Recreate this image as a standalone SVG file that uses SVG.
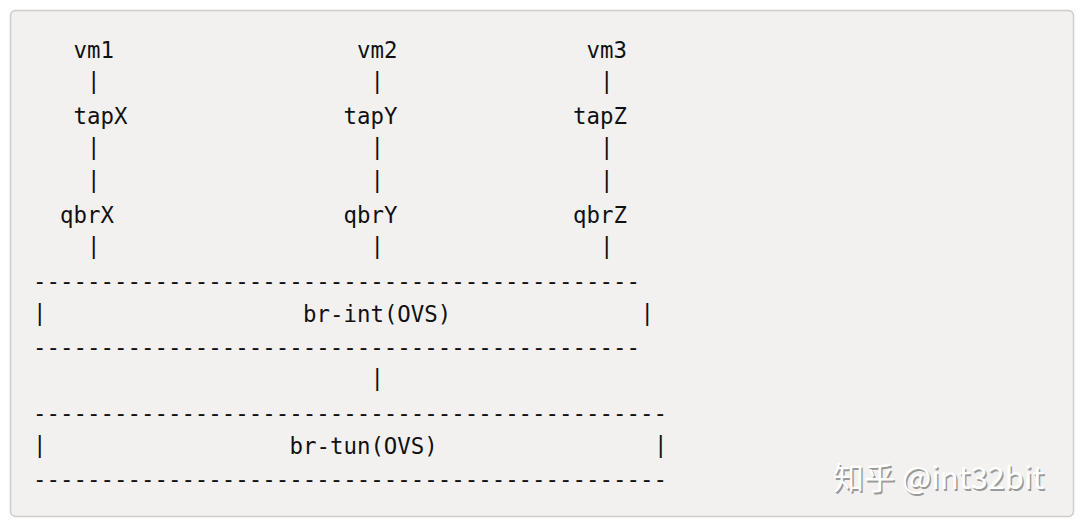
<svg xmlns="http://www.w3.org/2000/svg" width="1080" height="523" viewBox="0 0 1080 523">
<style>
.t{font-family:"DejaVu Sans Mono","Liberation Mono",monospace;font-size:22.4px;fill:#111111}
.wm{font-family:"Noto Sans CJK SC","Noto Sans",sans-serif;font-size:31px;fill:#ffffff}
.wms{font-family:"Noto Sans CJK SC","Noto Sans",sans-serif;font-size:31px;fill:#9a9a9a}
</style>
<rect x="0" y="0" width="1080" height="523" fill="#ffffff"/>
<rect id="panel" x="10.5" y="10.5" width="1063" height="506" rx="5" fill="#f3f1f0" stroke="#cfcccb" stroke-width="1.5"/>
<g id="vm1"><text class="t" x="73.5" y="58">vm1</text></g>
<g id="tapX"><text class="t" x="73.5" y="124">tapX</text></g>
<g id="qbrX"><text class="t" x="60" y="223">qbrX</text></g>
<g id="vm2"><text class="t" x="357" y="58">vm2</text></g>
<g id="tapY"><text class="t" x="343.5" y="124">tapY</text></g>
<g id="qbrY"><text class="t" x="343.5" y="223">qbrY</text></g>
<g id="vm3"><text class="t" x="586.5" y="58">vm3</text></g>
<g id="tapZ"><text class="t" x="573" y="124">tapZ</text></g>
<g id="qbrZ"><text class="t" x="573" y="223">qbrZ</text></g>
<g id="br-int">
<text class="t" x="33" y="289" textLength="607" lengthAdjust="spacing">---------------------------------------------</text>
<text class="t" x="33" y="321">|</text>
<text class="t" x="303" y="322">br-int(OVS)</text>
<text class="t" x="640.5" y="321">|</text>
<text class="t" x="33" y="355" textLength="607" lengthAdjust="spacing">---------------------------------------------</text>
</g>
<g id="br-tun">
<text class="t" x="33" y="421" textLength="634" lengthAdjust="spacing">-----------------------------------------------</text>
<text class="t" x="33" y="453">|</text>
<text class="t" x="289.5" y="454">br-tun(OVS)</text>
<text class="t" x="654" y="453">|</text>
<text class="t" x="33" y="487" textLength="634" lengthAdjust="spacing">-----------------------------------------------</text>
</g>
<g id="connectors">
<text class="t" x="87" y="89">|</text>
<text class="t" x="87" y="155">|</text>
<text class="t" x="87" y="188">|</text>
<text class="t" x="87" y="254">|</text>
<text class="t" x="370.5" y="89">|</text>
<text class="t" x="370.5" y="155">|</text>
<text class="t" x="370.5" y="188">|</text>
<text class="t" x="370.5" y="254">|</text>
<text class="t" x="600" y="89">|</text>
<text class="t" x="600" y="155">|</text>
<text class="t" x="600" y="188">|</text>
<text class="t" x="600" y="254">|</text>
<text class="t" x="370.5" y="386">|</text>
</g>
<g id="watermark">
<text class="wms" x="834.5" y="490.5">知乎 @int32bit</text>
<text class="wm" x="833" y="489">知乎 @int32bit</text>
</g>
</svg>
